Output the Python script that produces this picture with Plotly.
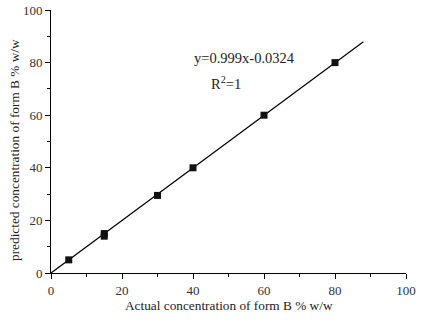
import plotly.graph_objects as go

actual = [5, 15, 15, 30, 40, 60, 80]
predicted = [5, 15, 14, 29.5, 40, 60, 80]
fit_x = [0, 88]
fit_y = [-0.03, 87.9]
eq_text = "y=0.999x-0.0324"
r2_text = "R<sup>2</sup>=1"
x_title = "Actual concentration of form B % w/w"
y_title = "predicted concentration of form B % w/w"

FONT = "Liberation Serif"

fig = go.Figure()
fig.add_trace(go.Scatter(x=fit_x, y=fit_y, mode="lines",
                         line=dict(color="black", width=1.2), showlegend=False))
fig.add_trace(go.Scatter(x=actual, y=predicted, mode="markers",
                         marker=dict(symbol="square", size=7, color="#111111"),
                         showlegend=False))

fig.add_annotation(x=54.6, y=81.7, xref="x", yref="y", text=eq_text, showarrow=False,
                   xanchor="center", yanchor="middle", font=dict(family=FONT, size=14.5, color="#222"))
fig.add_annotation(x=49.4, y=72.2, xref="x", yref="y", text=r2_text, showarrow=False,
                   xanchor="center", yanchor="middle", font=dict(family=FONT, size=14.5, color="#222"))

# axis titles as annotations (paper coords relative to plot area)
fig.add_annotation(x=0.5, y=-0.1217, xref="paper", yref="paper", text=x_title,
                   showarrow=False, xanchor="center", yanchor="middle",
                   font=dict(family=FONT, size=13.3, color="#222"))
fig.add_annotation(x=-0.1014, y=0.4677, xref="paper", yref="paper", text=y_title, textangle=-90,
                   showarrow=False, xanchor="center", yanchor="middle",
                   font=dict(family=FONT, size=13.3, color="#222"))

axis_common = dict(
    showgrid=False, zeroline=False, showline=True, linecolor="black", linewidth=1,
    ticks="outside", ticklen=5, tickwidth=1, tickcolor="black",
    tickfont=dict(family=FONT, size=13, color="#333"),
    minor=dict(ticks="outside", ticklen=3, tickwidth=1, tickcolor="black", dtick=10),
    dtick=20, tick0=0, automargin=False,
)

fig.update_xaxes(range=[0, 100], **axis_common)
fig.update_yaxes(range=[0, 100], **axis_common)

fig.update_layout(width=427, height=324, margin=dict(l=51, r=21, t=10, b=51),
                  plot_bgcolor="white", paper_bgcolor="white")

fig.write_html("out.html", config={"displayModeBar": False},
               post_script="document.body.style.margin='0';document.body.style.overflow='hidden';")
